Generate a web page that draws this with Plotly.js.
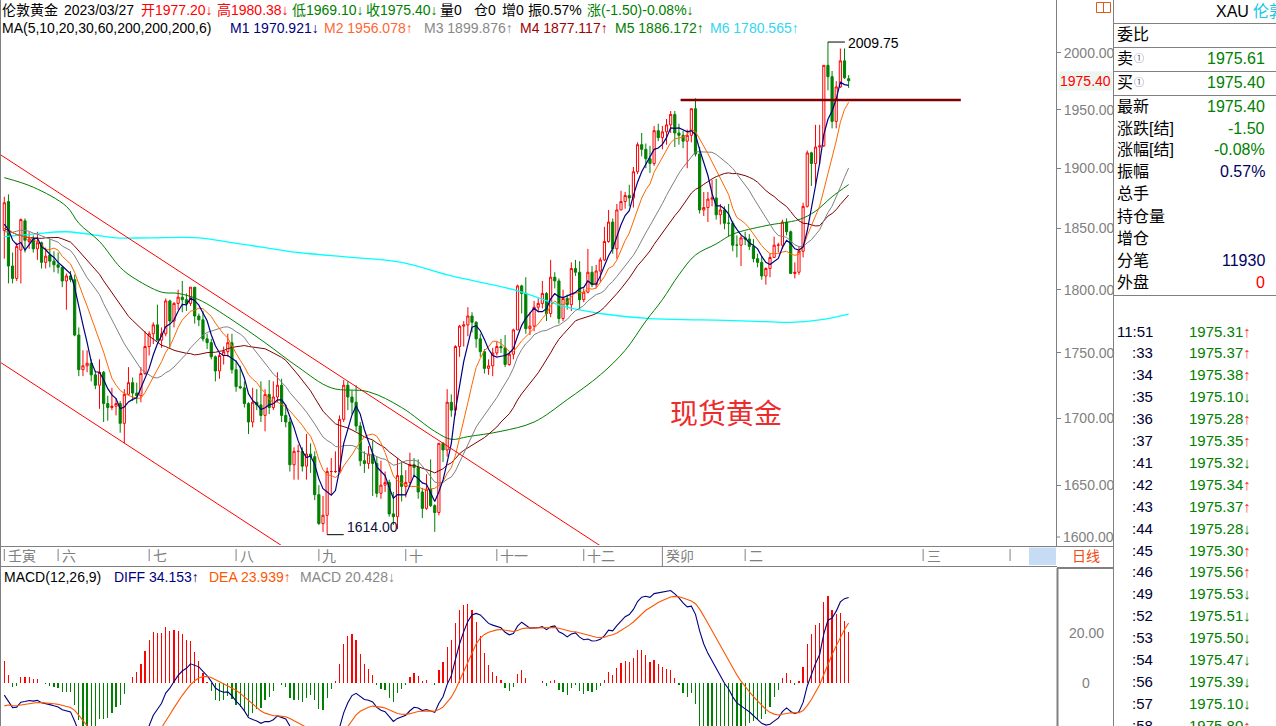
<!DOCTYPE html>
<html><head><meta charset="utf-8">
<script src="https://cdn.plot.ly/plotly-3.0.1.min.js"></script>
<style>html,body{margin:0;padding:0;background:#fff;overflow:hidden}#chart{width:1276px;height:726px}</style>
</head><body><div id="chart"></div>
<script>
// ---------------- DATA ----------------
// closes before the first visible candle, only used to warm up MA / MACD
const preCloses=[1925,1932,1923,1925,1931,1946,1954,1966,1977,1971,1975,1979,1950,1958,1951,1932,1898,1904,1886,1894,1897,1863,1868,1881,1877,1883,1854,1838,1853,1821,1811,1824,1815,1815,1841,1846,1853,1865,1853,1851,1853,1855,1837,1847,1869,1851,1841,1852,1854,1848];
const opens=[1848,1872,1819,1809,1832,1856,1839,1841,1833,1838,
1822,1828,1823,1820,1818,1807,1811,1808,1764,1737,
1740,1742,1733,1725,1735,1711,1708,1709,1711,1696,
1718,1727,1719,1717,1734,1755,1765,1772,1760,1765,
1791,1775,1789,1794,1792,1789,1802,1779,1776,1761,
1758,1747,1736,1748,1751,1758,1737,1724,1723,1711,
1697,1712,1710,1702,1718,1708,1716,1725,1702,1697,
1665,1675,1675,1664,1673,1671,1643,1622,1628,1660,
1660,1660,1699,1725,1716,1712,1694,1668,1666,1673,
1666,1644,1650,1652,1629,1627,1657,1649,1652,1665,
1663,1645,1633,1647,1635,1630,1681,1676,1712,1706,
1755,1771,1772,1779,1774,1761,1751,1738,1740,1750,
1755,1754,1741,1749,1768,1803,1797,1769,1771,1786,
1789,1797,1781,1810,1807,1777,1793,1788,1817,1814,
1792,1798,1814,1804,1815,1824,1839,1855,1833,1865,
1872,1877,1875,1897,1920,1916,1908,1904,1932,1926,
1931,1937,1946,1930,1928,1923,1928,1951,1912,1865,
1867,1874,1875,1861,1865,1854,1854,1836,1836,1842,
1841,1835,1825,1822,1811,1817,1826,1836,1836,1855,
1847,1813,1814,1831,1868,1913,1904,1918,1919,1989,
1979,1940,1970,1993,1977.2];
const highs=[1876,1878,1830,1838,1858,1858,1847,1844,1847,1839,
1834,1841,1831,1830,1818,1813,1815,1812,1770,1752,
1752,1745,1736,1745,1736,1717,1723,1715,1713,1722,
1739,1731,1727,1739,1767,1767,1774,1788,1770,1793,
1792,1790,1800,1807,1797,1802,1802,1781,1783,1765,
1761,1748,1750,1755,1765,1765,1744,1740,1728,1712,
1723,1722,1728,1722,1729,1728,1735,1730,1710,1700,
1678,1680,1678,1688,1681,1675,1650,1642,1663,1670,
1675,1702,1729,1728,1721,1725,1697,1675,1679,1683,
1671,1668,1660,1654,1645,1670,1667,1661,1674,1670,
1669,1648,1658,1669,1636,1681,1682,1722,1718,1756,
1772,1775,1786,1782,1775,1765,1753,1745,1754,1759,
1761,1764,1751,1769,1804,1804,1810,1782,1791,1793,
1807,1798,1824,1814,1809,1800,1796,1822,1824,1823,
1801,1833,1819,1820,1826,1851,1865,1858,1870,1881,
1880,1886,1901,1922,1930,1921,1919,1936,1938,1936,
1942,1949,1949,1938,1932,1933,1951,1960,1918,1880,
1880,1890,1891,1870,1868,1870,1856,1844,1844,1847,
1845,1841,1829,1827,1818,1829,1843,1838,1857,1858,
1848,1822,1835,1871,1915,1914,1937,1937,1989,2009.75,
1984,1975,2004,2004,1980.38];
const lows=[1825,1805,1805,1807,1805,1830,1833,1830,1824,1817,
1817,1818,1814,1813,1802,1784,1806,1763,1732,1732,
1735,1728,1722,1707,1697,1698,1706,1702,1689,1681,
1718,1713,1711,1712,1733,1748,1757,1760,1754,1763,
1754,1770,1784,1782,1783,1787,1773,1771,1759,1753,
1745,1728,1730,1741,1747,1734,1720,1722,1708,1688,
1693,1706,1697,1690,1703,1706,1712,1697,1693,1660,
1654,1654,1660,1654,1659,1639,1621,1616,1614,1643,
1659,1660,1697,1706,1703,1690,1664,1659,1662,1642,
1641,1640,1645,1627,1621,1618,1638,1641,1650,1656,
1640,1626,1632,1634,1616,1628,1667,1671,1701,1702,
1747,1755,1763,1766,1754,1747,1734,1733,1732,1748,
1750,1739,1740,1745,1768,1781,1765,1764,1767,1782,
1785,1775,1778,1801,1773,1775,1784,1783,1811,1784,
1790,1797,1802,1801,1806,1823,1838,1829,1825,1865,
1866,1868,1867,1895,1910,1900,1896,1902,1923,1916,
1920,1930,1918,1920,1917,1900,1922,1910,1862,1860,
1855,1868,1857,1853,1849,1843,1831,1826,1819,1836,
1832,1822,1818,1808,1804,1810,1826,1830,1833,1844,
1813,1809,1812,1826,1867,1885,1886,1903,1918,1967,
1934,1934,1969,1977,1969.1];
const closes=[1871,1819,1809,1835,1857,1840,1841,1833,1838,1822,
1827,1823,1820,1818,1807,1811,1808,1764,1737,1740,
1742,1733,1725,1735,1711,1708,1709,1711,1696,1718,
1727,1719,1717,1734,1755,1765,1772,1760,1765,1791,
1775,1789,1794,1792,1789,1802,1779,1776,1761,1758,
1747,1736,1748,1751,1758,1737,1724,1723,1711,1697,
1712,1710,1702,1718,1708,1716,1725,1702,1697,1665,
1675,1675,1664,1673,1671,1643,1622,1628,1660,1660,
1660,1699,1725,1716,1712,1694,1668,1666,1673,1666,
1644,1650,1652,1629,1627,1657,1649,1652,1665,1663,
1645,1633,1647,1635,1630,1681,1676,1712,1706,1755,
1771,1772,1779,1774,1761,1751,1738,1740,1750,1755,
1754,1741,1749,1768,1803,1797,1769,1771,1786,1789,
1797,1781,1810,1807,1777,1793,1788,1817,1814,1792,
1798,1814,1804,1815,1824,1839,1855,1833,1865,1872,
1877,1875,1897,1920,1916,1908,1904,1932,1926,1931,
1937,1946,1930,1928,1923,1928,1951,1912,1865,1867,
1874,1875,1861,1865,1854,1854,1836,1836,1842,1841,
1835,1825,1822,1811,1817,1826,1836,1836,1855,1847,
1813,1814,1831,1868,1913,1904,1918,1919,1989,1979,
1940,1970,1993,1978,1975.4];
// MA60 / MA200 at sample candles
const ma60Idx=[0,7,15,18,23,28,31,38,42,47,55,63,71,79,88,96,104,108,112,120,128,136,144,150,155,159,163,167,172,176,184,192,196,200,204];
const ma60Val=[1892,1884,1868,1854,1839,1818,1810,1798,1797,1792,1776,1758,1739,1723,1720,1708,1690,1684,1686,1690,1697,1714,1733,1752,1775,1792,1812,1828,1837,1845,1852,1857,1864,1876,1886.17];
const ma200Idx=[0,7,15,27,35,47,55,63,71,84,96,108,123,136,144,156,168,180,190,197,204];
const ma200Val=[1843,1845,1847,1842,1842,1842,1838,1834,1830,1826,1822,1811,1800,1786,1781,1777,1776,1775,1774,1776,1780.57];
// hand-drawn lines on the chart (candle index, price)
const upperChannelIdx=[-1.04,150], upperChannelPrice=[1911.7,1594.5];
const lowerChannelIdx=[-1.04,70], lowerChannelPrice=[1742.9,1600.4];
const resistIdx=[163.4,231.1], resistPrice=[1958.6,1958.6];
// lunar month ticks on the date bar
const monthTickIdx=[0,13,35,56,76,97,119,140,159,179,222,243];
const monthTickLabels=['壬寅','六','七','八','九','十','十一','十二','癸卯','二','三',''];
const priceTicks=[1650,1700,1750,1800,1850,1900,1950,2000];
// quote panel
const quoteLabels=['委比','卖','买','最新','涨跌[结]','涨幅[结]','振幅','总手','持仓量','增仓','分笔','外盘'];
const quoteValues=['','1975.61','1975.40','1975.40','-1.50','-0.08%','0.57%','','','','11930','0'];
const quoteColors=['','#008000','#008000','#008000','#008000','#008000','#000060','','','','#000060','#ff0000'];
const tickTimes=['11:51',':33',':34',':35',':36',':37',':41',':42',':43',':44',':45',':46',':49',':52',':53',':54',':56',':57',':58'];
const tickPrices=['1975.31','1975.37','1975.38','1975.10','1975.28','1975.35','1975.32','1975.34','1975.37','1975.28','1975.30','1975.56','1975.53','1975.51','1975.50','1975.47','1975.39','1975.10','1975.80'];
const tickDir=['↑','↑','↑','↓','↑','↑','↓','↑','↑','↓','↑','↑','↓','↓','↓','↓','↓','↓','↑'];

// ---------------- INDICATORS ----------------
const all=preCloses.concat(closes), P=preCloses.length, N=closes.length;
const idx=closes.map((_,i)=>i);
function ma(n){return idx.map(i=>{const k=i+P;let s=0;for(let j=k-n+1;j<=k;j++)s+=all[j];return s/n;});}
const ma5=ma(5),ma10=ma(10),ma20=ma(20),ma30=ma(30);
let e12=all[0],e26=all[0],dea=0;const diffArr=[],deaArr=[],macdArr=[];
all.forEach((c,k)=>{e12=(2*c+11*e12)/13;e26=(2*c+25*e26)/27;const d=e12-e26;dea=(2*d+8*dea)/10;
 if(k>=P){diffArr.push(d);deaArr.push(dea);macdArr.push(2*(d-dea));}});

// ---------------- LAYOUT HELPERS ----------------
const W=1276,H=726;
const FONT='"Liberation Sans", Arial, "Noto Sans CJK SC", sans-serif';
const px=x=>x/W, py=y=>1-y/H;
const GRAY='#808080';
function txt(x,y,text,color,size,anchor,extra){return Object.assign({xref:'paper',yref:'paper',x:px(x),y:py(y),text:text,showarrow:false,xanchor:anchor||'left',yanchor:'middle',font:{family:FONT,size:size||14,color:color||'#000'}},extra||{});}
function hl(y,x0,x1,c,w){return {type:'line',xref:'paper',yref:'paper',x0:px(x0),x1:px(x1),y0:py(y),y1:py(y),line:{color:c||GRAY,width:w||1}};}
function vl(x,y0,y1,c,w){return {type:'line',xref:'paper',yref:'paper',x0:px(x),x1:px(x),y0:py(y0),y1:py(y1),line:{color:c||GRAY,width:w||1}};}

const data=[];
data.push({type:'candlestick',x:idx,open:opens,high:highs,low:lows,close:closes,xaxis:'x',yaxis:'y',
 increasing:{line:{color:'#ff0000',width:1},fillcolor:'#ffffff'},
 decreasing:{line:{color:'#008000',width:1},fillcolor:'#008000'},whiskerwidth:0,hoverinfo:'none',showlegend:false});
function line(x,y,color,w,extra){return Object.assign({type:'scatter',mode:'lines',x:x,y:y,xaxis:'x',yaxis:'y',line:{color:color,width:w||1},hoverinfo:'none',showlegend:false},extra||{});}
data.push(line(ma200Idx,ma200Val,'#00ffff',1.3,{line:{color:'#00ffff',width:1.3,shape:'spline'}}));
data.push(line(ma60Idx,ma60Val,'#008000',1,{line:{color:'#008000',width:1,shape:'spline'}}));
data.push(line(idx,ma30,'#800000',1));
data.push(line(idx,ma20,'#808080',1));
data.push(line(idx,ma10,'#ff6600',1));
data.push(line(idx,ma5,'#000080',1.2));
data.push(line(upperChannelIdx,upperChannelPrice,'#ff0000',1));
data.push(line(lowerChannelIdx,lowerChannelPrice,'#ff0000',1));
data.push(line(resistIdx,resistPrice,'#800000',2.6));
// label leader lines at extreme candles
const hiI=highs.indexOf(Math.max(...highs)), loI=lows.indexOf(Math.min(...lows));
data.push(line([hiI,hiI+4.1],[highs[hiI],highs[hiI]],'#000',1));
data.push(line([loI,loI+4],[lows[loI],lows[loI]],'#000',1));
// MACD
data.push({type:'bar',x:idx,y:macdArr,xaxis:'x2',yaxis:'y2',width:0.3,marker:{color:macdArr.map(v=>v>=0?'#ff0000':'#008000'),line:{width:0}},hoverinfo:'none',showlegend:false});
data.push({type:'scatter',mode:'lines',x:idx,y:diffArr,xaxis:'x2',yaxis:'y2',line:{color:'#000080',width:1.1},hoverinfo:'none',showlegend:false});
data.push({type:'scatter',mode:'lines',x:idx,y:deaArr,xaxis:'x2',yaxis:'y2',line:{color:'#ff5500',width:1.1},hoverinfo:'none',showlegend:false});

// ---------------- ANNOTATIONS ----------------
const ann=[];
[[0,'伦敦黄金','#000'],[62,'2023/03/27','#000'],[139,'开1977.20↓','#ff0000'],[215,'高1980.38↓','#ff0000'],
 [290,'低1969.10↓','#008000'],[364,'收1975.40↓','#008000'],[438,'量0','#000'],[472,'仓0','#000'],[500,'增0','#000'],
 [526,'振0.57%','#000'],[585,'涨(-1.50)-0.08%↓','#008000']].forEach(s=>ann.push(txt(s[0],9.5,s[1],s[2],14)));
[[0,'MA(5,10,20,30,60,200,200,200,6)','#000'],[228,'M1 1970.921↓','#000080'],[322,'M2 1956.078↑','#ff6633'],
 [422,'M3 1899.876↑','#888888'],[518,'M4 1877.117↑','#a00000'],[613,'M5 1886.172↑','#008000'],[708,'M6 1780.565↑','#33d6ee']]
 .forEach(s=>ann.push(txt(s[0],28,s[1],s[2],14)));
[[2,'MACD(12,26,9)','#000'],[112,'DIFF 34.153↑','#000080'],[207,'DEA 23.939↑','#ff5500'],[298,'MACD 20.428↓','#888888']]
 .forEach(s=>ann.push(txt(s[0],577,s[1],s[2],14)));
// chart labels
ann.push({xref:'x',yref:'y',x:hiI+4.3,y:Math.log10(highs[hiI]),text:highs[hiI].toFixed(2),showarrow:false,xanchor:'left',yanchor:'middle',yshift:-1,font:{family:FONT,size:14,color:'#000'}});
ann.push({xref:'x',yref:'y',x:loI+4.3,y:Math.log10(lows[loI]),text:lows[loI].toFixed(2),showarrow:false,xanchor:'left',yanchor:'middle',yshift:8,font:{family:FONT,size:14,color:'#10103a'}});
ann.push(txt(668,415,'现货黄金','#ee2a2a',28));
// price axis extras
ann.push({xref:'paper',yref:'y',x:px(1058),y:Math.log10(closes[N-1]),text:closes[N-1].toFixed(2),showarrow:false,xanchor:'left',yanchor:'middle',bgcolor:'#eef4ee',borderpad:1,font:{family:FONT,size:14,color:'#ff0000'}});
ann.push(txt(1061,537,'1600.00',GRAY,14));
ann.push({xref:'paper',yref:'y2',x:px(1086),y:20,text:'20.00',showarrow:false,xanchor:'center',yanchor:'middle',font:{family:FONT,size:14,color:GRAY}});
ann.push({xref:'paper',yref:'y2',x:px(1086),y:0,text:'0',showarrow:false,xanchor:'center',yanchor:'middle',font:{family:FONT,size:14,color:GRAY}});
// date bar
monthTickIdx.forEach((t,k)=>{if(monthTickLabels[k])ann.push({xref:'x',yref:'paper',x:t+0.35,y:py(556),text:monthTickLabels[k],showarrow:false,xanchor:'left',yanchor:'middle',font:{family:FONT,size:14,color:GRAY}});});
ann.push(txt(1070,556,'日线','#f04a10',14));
// quote panel
ann.push(txt(1214,12,'XAU','#000',16));
ann.push(txt(1251,12,'伦敦','#10c8e8',16));
const rowY=[34,58,82,106,128,150,172,194,216,238,260,282];
quoteLabels.forEach((l,k)=>{ann.push(txt(1115,rowY[k],l,'#000',16));
 if(quoteValues[k])ann.push(txt(1267,rowY[k],quoteValues[k],quoteColors[k],16,'right'));});
ann.push(txt(1132,59,'①','#555577',10));
ann.push(txt(1132,83,'①','#555577',10));
tickTimes.forEach((t,k)=>{const y=331+21.9*k;
 ann.push(txt(1155,y,t,'#000033',15,'right'));
 ann.push(txt(1187,y,tickPrices[k]+'<span style="color:'+(tickDir[k]==='↑'?'#ff3030':'#008000')+'">'+tickDir[k]+'</span>','#008000',15));});

// ---------------- SHAPES ----------------
const shapes=[
 vl(0.5,0,726), vl(1056.5,0,546), vl(1113.5,0,726),
 hl(546.5,0,1113), hl(566.5,0,1057),
 hl(568,1057,1113,GRAY,2), vl(1057.5,568,726,GRAY,2),
 hl(23.5,1113,1276), hl(47.5,1113,1276), hl(71.5,1113,1276), hl(95.5,1113,1276), hl(295.5,1113,1276),
 {type:'rect',xref:'paper',yref:'paper',x0:px(1029),x1:px(1056),y0:py(547.5),y1:py(565),fillcolor:'#c6dcf4',line:{width:0}},
 {type:'rect',xref:'paper',yref:'paper',x0:px(1096.5),x1:px(1110.5),y0:py(2.5),y1:py(12.5),line:{color:'#e05a20',width:1}},
 vl(1103.5,2.5,12.5,'#e05a20',1)
];
monthTickIdx.forEach((t,k)=>{const full=monthTickLabels[k]==='癸卯';
 shapes.push({type:'line',xref:'x',yref:'paper',x0:t,x1:t,y0:py(full?546.5:549),y1:py(full?566:561),line:{color:GRAY,width:1}});});
// price axis tick mark for 1600 label
shapes.push(hl(537,1056,1060,GRAY,1));

const xRange=[-1.04,254.1];
const layout={
 width:W,height:H,margin:{l:0,r:0,t:0,b:0},paper_bgcolor:'#fff',plot_bgcolor:'#fff',showlegend:false,
 boxgap:0.25,bargap:0,
 xaxis:{domain:[0,px(1056)],range:xRange,anchor:'y',showgrid:false,zeroline:false,showticklabels:false,ticks:'',showline:false,rangeslider:{visible:false},fixedrange:true},
 xaxis2:{domain:[0,px(1056)],range:xRange,anchor:'y2',matches:'x',showgrid:false,zeroline:false,showticklabels:false,ticks:'',showline:false,fixedrange:true},
 yaxis:{type:'log',domain:[py(545),py(1)],range:[Math.log10(1606.6),Math.log10(2046.8)],side:'right',anchor:'x',
  tickmode:'array',tickvals:priceTicks,ticktext:priceTicks.map(v=>v.toFixed(2)),ticks:'outside',ticklen:4,tickcolor:GRAY,
  tickfont:{family:FONT,size:14,color:GRAY},showgrid:false,zeroline:false,showline:false,fixedrange:true},
 yaxis2:{domain:[0,py(566)],range:[-17.2,46.8],side:'right',anchor:'x2',showticklabels:false,ticks:'',showgrid:false,zeroline:false,showline:false,fixedrange:true},
 annotations:ann,shapes:shapes
};
Plotly.newPlot('chart',data,layout,{staticPlot:true,displayModeBar:false});
</script></body></html>
